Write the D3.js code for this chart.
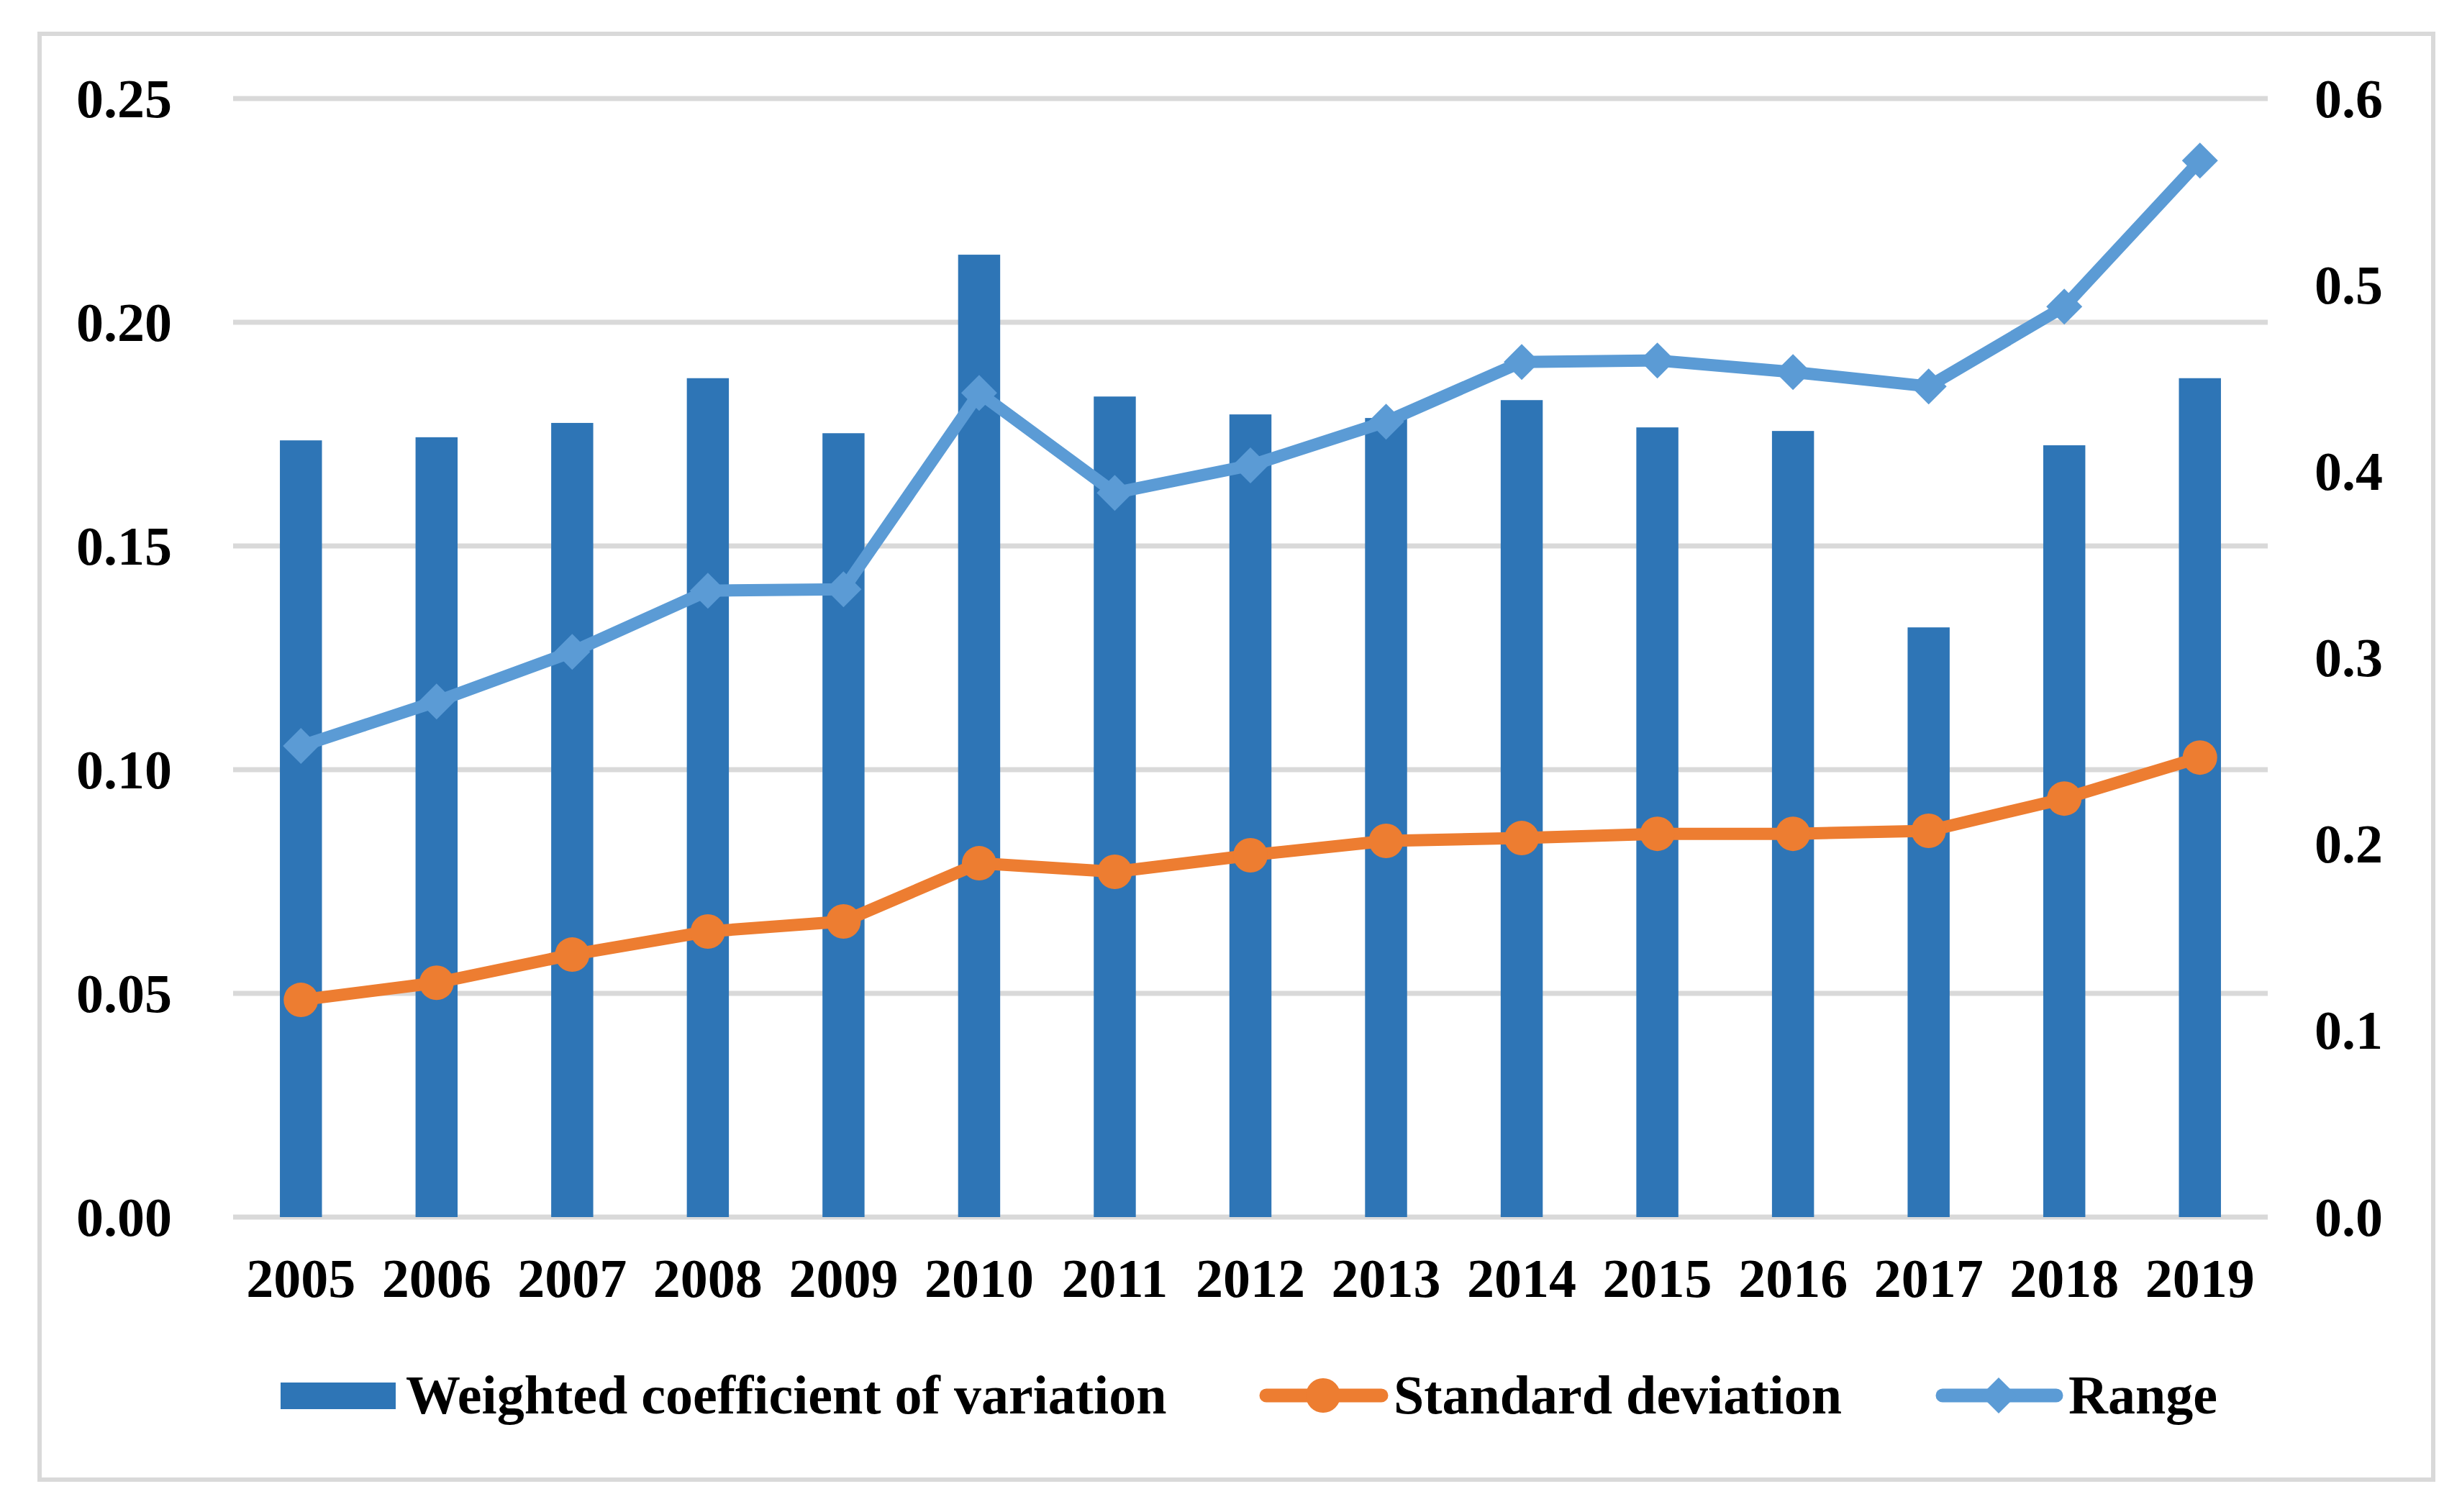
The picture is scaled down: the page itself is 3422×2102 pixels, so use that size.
<!DOCTYPE html>
<html>
<head>
<meta charset="utf-8">
<script src="https://cdn.jsdelivr.net/npm/d3@7"></script>
<style>
  body { margin: 0; background: #fff; }
  text { font-family: "Liberation Serif", "Times New Roman", serif; font-weight: bold; fill: #000; }
</style>
</head>
<body>
<div id="chart"></div>
<script>
const years = ["2005", "2006", "2007", "2008", "2009", "2010", "2011", "2012", "2013", "2014", "2015", "2016", "2017", "2018", "2019"];
const weightedCV = [0.1736, 0.1743, 0.1775, 0.1875, 0.1752, 0.2151, 0.1834, 0.1794, 0.1786, 0.1826, 0.1765, 0.1757, 0.1318, 0.1725, 0.1875];
const stdDev = [0.1165, 0.1257, 0.1408, 0.1532, 0.1586, 0.1898, 0.1852, 0.1941, 0.2018, 0.2033, 0.2056, 0.2056, 0.2072, 0.2245, 0.2465];
const range = [0.2527, 0.2766, 0.3032, 0.3360, 0.3368, 0.4421, 0.3885, 0.4032, 0.4267, 0.4587, 0.4595, 0.4533, 0.4456, 0.4884, 0.5667];
const leftTicks = [0, 0.05, 0.10, 0.15, 0.20, 0.25];
const rightTicks = [0, 0.1, 0.2, 0.3, 0.4, 0.5, 0.6];
const seriesNames = ["Weighted coefficient of variation", "Standard deviation", "Range"];

const width = 3422;
const height = 2102;
const plot = { left: 324, right: 3152, top: 137, bottom: 1692 };
const barColor = "#2E75B6";
const sdColor = "#ED7D31";
const rangeColor = "#5B9BD5";
const gridColor = "#D9D9D9";
const fontSize = 76;

const svg = d3.select("#chart").append("svg")
    .attr("width", width)
    .attr("height", height);

svg.append("rect").attr("width", width).attr("height", height).attr("fill", "#fff");

// outer chart border
svg.append("rect")
    .attr("x", 55).attr("y", 47)
    .attr("width", 3382 - 55).attr("height", 2057 - 47)
    .attr("fill", "none")
    .attr("stroke", gridColor)
    .attr("stroke-width", 6);

const x = d3.scaleBand()
    .domain(years)
    .range([plot.left, plot.right])
    .paddingInner(0.69)
    .paddingOuter(0.345);

const yLeft = d3.scaleLinear().domain([0, 0.25]).range([plot.bottom, plot.top]);
const yRight = d3.scaleLinear().domain([0, 0.6]).range([plot.bottom, plot.top]);

// gridlines
svg.append("g")
    .selectAll("line")
    .data(leftTicks)
    .join("line")
    .attr("x1", plot.left)
    .attr("x2", plot.right)
    .attr("y1", d => yLeft(d))
    .attr("y2", d => yLeft(d))
    .attr("stroke", gridColor)
    .attr("stroke-width", 7);

// left axis
const leftAxis = svg.append("g")
    .attr("transform", `translate(${plot.left},0)`)
    .call(d3.axisLeft(yLeft).tickValues(leftTicks).tickSize(0).tickPadding(85).tickFormat(d3.format(".2f")));
leftAxis.select(".domain").remove();
leftAxis.selectAll("text")
    .attr("font-size", fontSize)
    .attr("font-family", null)
    .attr("dy", "0.33em");

// right axis
const rightAxis = svg.append("g")
    .attr("transform", `translate(${plot.right},0)`)
    .call(d3.axisRight(yRight).tickValues(rightTicks).tickSize(0).tickPadding(65).tickFormat(d3.format(".1f")));
rightAxis.select(".domain").remove();
rightAxis.selectAll("text")
    .attr("font-size", fontSize)
    .attr("font-family", null)
    .attr("dy", "0.33em");

// bars
svg.append("g")
    .selectAll("rect")
    .data(weightedCV)
    .join("rect")
    .attr("x", (d, i) => x(years[i]))
    .attr("width", x.bandwidth())
    .attr("y", d => yLeft(d))
    .attr("height", d => yLeft(0) - yLeft(d))
    .attr("fill", barColor);

// bottom axis
const bottomAxis = svg.append("g")
    .attr("transform", `translate(0,${plot.bottom})`)
    .call(d3.axisBottom(x).tickSize(0));
bottomAxis.select(".domain").remove();
bottomAxis.selectAll("text")
    .attr("font-size", fontSize)
    .attr("font-family", null)
    .attr("dy", null)
    .attr("y", 111);

const cx = i => x(years[i]) + x.bandwidth() / 2;
const diamond = s => `M0,${-s}L${s},0L0,${s}L${-s},0Z`;

// range line
svg.append("path")
    .datum(range)
    .attr("fill", "none")
    .attr("stroke", rangeColor)
    .attr("stroke-width", 17)
    .attr("stroke-linejoin", "round")
    .attr("d", d3.line().x((d, i) => cx(i)).y(d => yRight(d)));
svg.append("g")
    .selectAll("path")
    .data(range)
    .join("path")
    .attr("transform", (d, i) => `translate(${cx(i)},${yRight(d)})`)
    .attr("d", diamond(25))
    .attr("fill", rangeColor);

// standard deviation line
svg.append("path")
    .datum(stdDev)
    .attr("fill", "none")
    .attr("stroke", sdColor)
    .attr("stroke-width", 17)
    .attr("stroke-linejoin", "round")
    .attr("d", d3.line().x((d, i) => cx(i)).y(d => yRight(d)));
svg.append("g")
    .selectAll("circle")
    .data(stdDev)
    .join("circle")
    .attr("cx", (d, i) => cx(i))
    .attr("cy", d => yRight(d))
    .attr("r", 24)
    .attr("fill", sdColor);

// legend
const legendY = 1940;
const legend = svg.append("g");

legend.append("rect")
    .attr("x", 390).attr("y", legendY - 18)
    .attr("width", 160).attr("height", 37)
    .attr("fill", barColor);
legend.append("text")
    .attr("x", 564).attr("y", legendY).attr("dy", "0.33em")
    .attr("font-size", fontSize)
    .text(seriesNames[0]);

legend.append("line")
    .attr("x1", 1760).attr("x2", 1920)
    .attr("y1", legendY).attr("y2", legendY)
    .attr("stroke", sdColor).attr("stroke-width", 19).attr("stroke-linecap", "round");
legend.append("circle")
    .attr("cx", 1839).attr("cy", legendY).attr("r", 24)
    .attr("fill", sdColor);
legend.append("text")
    .attr("x", 1937).attr("y", legendY).attr("dy", "0.33em")
    .attr("font-size", fontSize)
    .text(seriesNames[1]);

legend.append("line")
    .attr("x1", 2700).attr("x2", 2858)
    .attr("y1", legendY).attr("y2", legendY)
    .attr("stroke", rangeColor).attr("stroke-width", 19).attr("stroke-linecap", "round");
legend.append("path")
    .attr("transform", `translate(2778,${legendY})`)
    .attr("d", diamond(25))
    .attr("fill", rangeColor);
legend.append("text")
    .attr("x", 2875).attr("y", legendY).attr("dy", "0.33em")
    .attr("font-size", fontSize)
    .text(seriesNames[2]);
</script>
</body>
</html>
